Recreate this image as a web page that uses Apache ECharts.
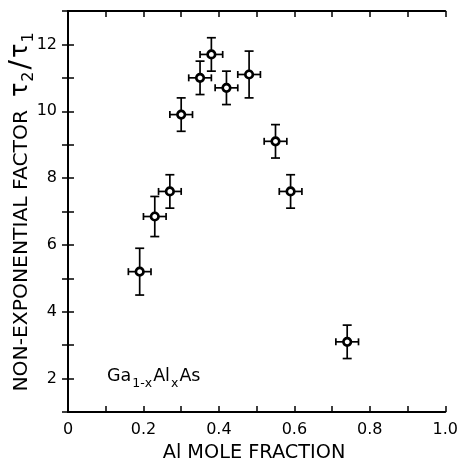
<!DOCTYPE html>
<html>
<head>
<meta charset="utf-8">
<script src="https://cdn.jsdelivr.net/npm/echarts@6/dist/echarts.min.js"></script>
<style>html,body{margin:0;padding:0;background:#fff;}#c{width:461px;height:465px;}</style>
</head>
<body>
<div id="c"></div>
<script>
// Al mole fraction (x) and non-exponential factor tau2/tau1 (y)
const alFraction = [0.19, 0.23, 0.27, 0.30, 0.35, 0.38, 0.42, 0.48, 0.55, 0.59, 0.74];
const factor     = [5.2, 6.85, 7.6, 9.9, 11.0, 11.7, 10.7, 11.1, 9.1, 7.6, 3.1];
const fractionErr = [0.03, 0.03, 0.03, 0.03, 0.03, 0.03, 0.03, 0.03, 0.03, 0.03, 0.03];
const factorErr   = [0.7, 0.6, 0.5, 0.5, 0.5, 0.5, 0.5, 0.7, 0.5, 0.5, 0.5];
const xTickLabels = ['0', '0.2', '0.4', '0.6', '0.8', '1.0'];
const yTickLabels = ['2', '4', '6', '8', '10', '12'];

const FONT = '"DejaVu Sans", "Liberation Sans", sans-serif';
const chart = echarts.init(document.getElementById('c'), null, {renderer: 'canvas'});

const errData = alFraction.map((x, i) => [x, factor[i], fractionErr[i], factorErr[i]]);
const ptData = alFraction.map((x, i) => [x, factor[i]]);

function xFmt(v) {
  const k = Math.round(v * 10);
  if (k % 2 !== 0) return '';
  return xTickLabels[k / 2];
}
function yFmt(v) {
  const k = Math.round(v);
  if (k % 2 !== 0) return '';
  const idx = yTickLabels.indexOf(String(k));
  return idx >= 0 ? yTickLabels[idx] : '';
}

const axisLine = {show: true, lineStyle: {color: '#000', width: 2}};
const axisTick = {show: true, inside: true, length: 6, lineStyle: {color: '#000', width: 1.5}};

chart.setOption({
  animation: false,
  backgroundColor: '#fff',
  grid: {left: 68, right: 13, top: 11, bottom: 53},
  xAxis: [
    {type: 'value', position: 'bottom', min: 0, max: 1, interval: 0.1,
     axisLine, axisTick, splitLine: {show: false},
     axisLabel: {formatter: xFmt, margin: 10, color: '#000', fontSize: 16, fontFamily: FONT, showMinLabel: true, showMaxLabel: true}},
    {type: 'value', position: 'top', min: 0, max: 1, interval: 0.1,
     axisLine, axisTick, splitLine: {show: false}, axisLabel: {show: false}}
  ],
  yAxis: [
    {type: 'value', position: 'left', min: 1, max: 13, interval: 1,
     axisLine, axisTick, splitLine: {show: false},
     axisLabel: {formatter: yFmt, margin: 11, color: '#000', fontSize: 16, fontFamily: FONT}},
    {type: 'value', position: 'right', min: 1, max: 13, interval: 1,
     axisLine, axisTick, splitLine: {show: false}, axisLabel: {show: false}}
  ],
  series: [
    {
      type: 'custom',
      data: errData,
      z: 2,
      renderItem: function (params, api) {
        const x = api.value(0), y = api.value(1), dx = api.value(2), dy = api.value(3);
        const l = api.coord([x - dx, y]);
        const r = api.coord([x + dx, y]);
        const t = api.coord([x, y + dy]);
        const b = api.coord([x, y - dy]);
        const vc = 4.5, hc = 3.5;
        const st = {stroke: '#000', lineWidth: 1.7};
        const ln = (x1, y1, x2, y2) => ({type: 'line', shape: {x1, y1, x2, y2}, style: st});
        return {type: 'group', children: [
          ln(l[0], l[1], r[0], r[1]),
          ln(t[0], t[1], b[0], b[1]),
          ln(t[0] - vc, t[1], t[0] + vc, t[1]),
          ln(b[0] - vc, b[1], b[0] + vc, b[1]),
          ln(l[0], l[1] - hc, l[0], l[1] + hc),
          ln(r[0], r[1] - hc, r[0], r[1] + hc)
        ]};
      }
    },
    {
      type: 'scatter',
      data: ptData,
      z: 3,
      symbol: 'circle',
      symbolSize: 7.5,
      itemStyle: {color: '#fff', borderColor: '#000', borderWidth: 2.7, opacity: 1}
    }
  ],
  graphic: [
    {
      type: 'text', x: 22, y: 211, rotation: Math.PI / 2,
      style: {
        text: '{m|NON-EXPONENTIAL FACTOR  }{t|τ}{s|2}{d|/}{t|τ}{s|1}',
        align: 'center', verticalAlign: 'middle', fill: '#000',
        rich: {
          m: {fontSize: 20.3, fontFamily: FONT, fill: '#000', verticalAlign: 'bottom', padding: [0, 0, 5, 0]},
          t: {fontSize: 24, fontFamily: FONT, fill: '#000', verticalAlign: 'bottom', padding: [0, 1, 4, 0]},
          d: {fontSize: 28, fontFamily: FONT, fill: '#000', verticalAlign: 'bottom', padding: [0, 2, 1, 0]},
          s: {fontSize: 16, fontFamily: FONT, fill: '#000', verticalAlign: 'bottom', padding: [0, 2, 0, 0]}
        }
      }
    },
    {
      type: 'text', x: 254, y: 453,
      style: {text: 'Al MOLE FRACTION', align: 'center', verticalAlign: 'middle',
              fontSize: 19.3, fontFamily: FONT, fill: '#000'}
    },
    {
      type: 'text', x: 107, y: 379,
      style: {
        text: '{m|Ga}{s|1-x}{m|Al}{s|x}{m|As}',
        align: 'left', verticalAlign: 'middle', fill: '#000',
        rich: {
          m: {fontSize: 17.5, fontFamily: FONT, fill: '#000', verticalAlign: 'bottom', padding: [0, 0, 5, 0]},
          s: {fontSize: 12.5, fontFamily: FONT, fill: '#000', verticalAlign: 'bottom', padding: [0, 1, 0, 1]}
        }
      }
    }
  ]
});
</script>
</body>
</html>
